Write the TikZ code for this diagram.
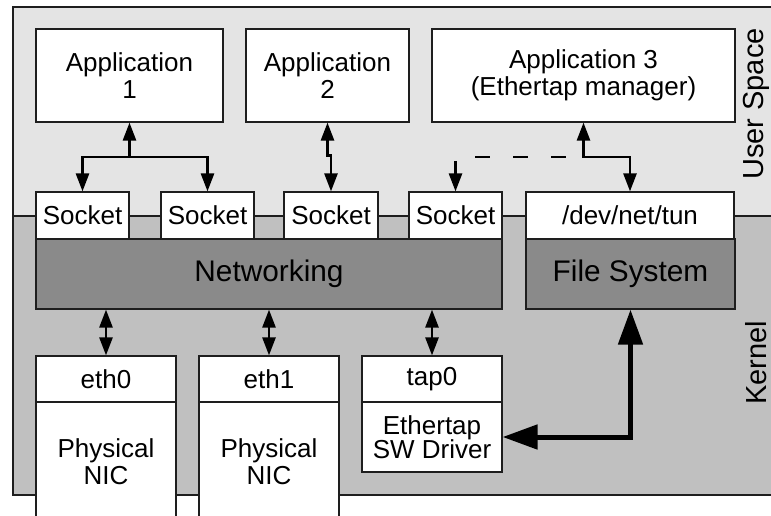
\documentclass[tikz,border=0pt]{standalone}
\usepackage{fontspec}
\setmainfont{Liberation Sans}
\usetikzlibrary{arrows.meta,calc}
\definecolor{userbg}{HTML}{E4E4E4}
\definecolor{kernbg}{HTML}{C0C0C0}
\definecolor{layerfill}{HTML}{8A8A8A}
\definecolor{edge}{HTML}{1E1E1E}
\begin{document}
\begin{tikzpicture}[x=1pt,y=-1pt,
  box/.style={draw=edge, line width=1.2pt, fill=white, inner sep=0pt, align=center,
    font=\fontsize{26}{27}\selectfont},
  layer/.style={box, fill=layerfill, font=\fontsize{29.8}{30}\selectfont},
  side/.style={rotate=90, inner sep=0pt, font=\fontsize{29}{30}\selectfont},
  tip/.tip={Triangle[length=18pt,width=13pt]},
  bigtip/.tip={Triangle[length=35pt,width=24pt]},
  oneway/.style={line width=2.6pt, -tip},
  twoway/.style={line width=2.6pt, tip-tip},
  heavy/.style={line width=5pt, bigtip-bigtip},
]
\useasboundingbox (0,0) rectangle (771,516);
\clip (0,0) rectangle (771,516);

% user space / kernel regions
\fill[userbg] (13,7) rectangle (800,216);
\fill[kernbg] (13,216) rectangle (800,495);
\draw[edge, line width=1.2pt] (800,7) -- (13,7) -- (13,495) -- (800,495);
\draw[edge, line width=1.2pt] (13,216) -- (800,216);

% applications
\node[box, minimum width=187pt, minimum height=93pt] (app1) at (129.5,75.5) {Application\\1};
\node[box, minimum width=163pt, minimum height=93pt] (app2) at (327.5,75.5) {Application\\2};
\node[box, minimum width=303pt, minimum height=93pt] (app3) at (583.5,75.5) {Application 3\\(Ethertap manager)};

% sockets and device file
\node[box, minimum width=93pt, minimum height=47pt] (sock1) at (82.5,215.5) {Socket};
\node[box, minimum width=93pt, minimum height=47pt] (sock2) at (207.5,215.5) {Socket};
\node[box, minimum width=94pt, minimum height=47pt] (sock3) at (331,215.5) {Socket};
\node[box, minimum width=93pt, minimum height=47pt] (sock4) at (455.5,215.5) {Socket};
\node[box, minimum width=208pt, minimum height=47pt] (tun) at (630,215.5) {/dev/net/tun};

% kernel layers
\node[layer, minimum width=466pt, minimum height=70pt] (net) at (269,274) {Networking};
\node[layer, minimum width=209pt, minimum height=70pt] (fs) at (630.5,274) {File System};

% interfaces and drivers
\node[box, minimum width=140pt, minimum height=46pt] (eth0) at (106,379) {eth0};
\node[box, minimum width=140pt, minimum height=120pt] (nic0) at (106,462) {Physical\\NIC};
\node[box, minimum width=140pt, minimum height=46pt] (eth1) at (269,379) {eth1};
\node[box, minimum width=140pt, minimum height=120pt] (nic1) at (269,462) {Physical\\NIC};
\node[box, minimum width=140pt, minimum height=46pt] (tap0) at (432,379) {tap0};
\node[box, minimum width=140pt, minimum height=70pt, font=\fontsize{26}{24.5}\selectfont] (drv) at (432,437) {Ethertap\\SW Driver};

% side labels
\node[side] (ulabel) at (756.5,104) {User Space};
\node[side] (klabel) at (756,363) {Kernel};

% application 1 fans out to two sockets
\coordinate (bus1) at (129.5,157);
\draw[oneway] (bus1) -- (app1.south);
\draw[oneway] (bus1) -| (sock1.north);
\draw[oneway] (bus1) -| (sock2.north);

% application 2 to its socket
\draw[twoway] (app2.south) -- ++(0,33) -| (sock3.north);

% application 3 to the tun device, dashed to its socket
\coordinate (bus3) at (630,157);
\draw[twoway] (app3.south) |- (bus3) -- (tun.north);
\coordinate (dash3) at (565.5,157);
\draw[oneway, dash pattern=on 15pt off 23pt] (dash3) -| (sock4.north);

% networking to interfaces
\draw[twoway] (net.south -| eth0.north) -- (eth0.north);
\draw[twoway] (net.south -| eth1.north) -- (eth1.north);
\draw[twoway] (net.south -| tap0.north) -- (tap0.north);

% driver to file system
\draw[heavy] (drv.east) -| (fs.south);
\end{tikzpicture}
\end{document}
